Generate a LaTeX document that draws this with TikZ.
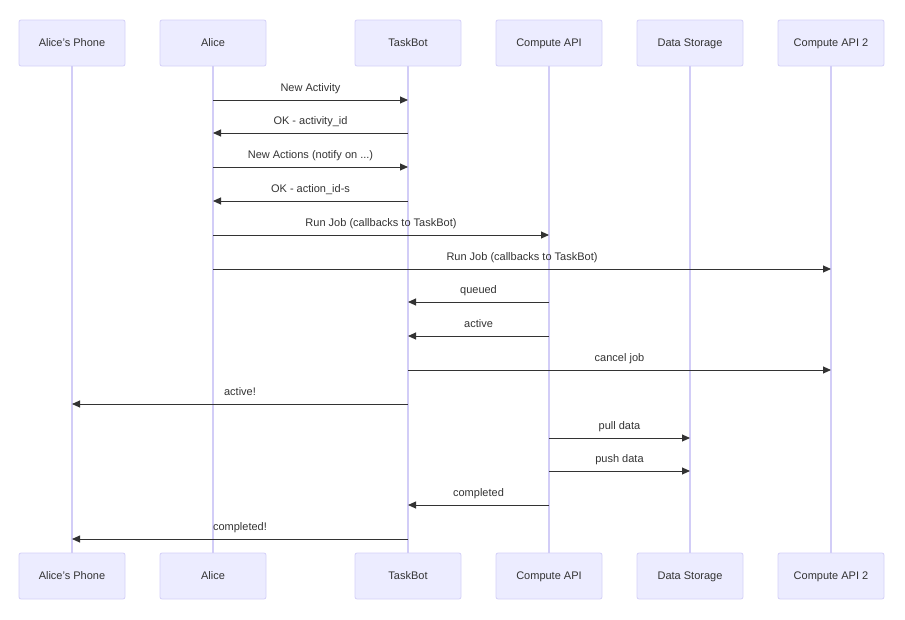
\documentclass[tikz,border=0pt]{standalone}
\usepackage{fontspec}
\setmainfont{Liberation Sans}
\usetikzlibrary{positioning,arrows.meta}
\definecolor{actorfill}{HTML}{ECECFF}
\definecolor{actorline}{HTML}{D4D0F8}
\definecolor{lifeline}{HTML}{D2CDF7}
\definecolor{msgline}{HTML}{333333}

\begin{document}
\begin{tikzpicture}[x=1pt, y=-1pt, node distance=487pt and 35pt,
    actor/.style={draw=actorline, fill=actorfill, rounded corners=2pt, line width=0.8pt, outer sep=0pt,
      minimum width=106pt, minimum height=46pt, text height=8pt, text depth=2pt,
      text=msgline, font=\fontsize{11}{13}\selectfont},
    life/.style={draw=lifeline, line width=1.3pt},
    msg/.style={draw=msgline, line width=0.9pt, -{Triangle[length=8pt,width=7pt]}},
    msglabel/.style={text=msgline, font=\fontsize{11}{13}\selectfont, inner sep=0pt,
      text height=8pt, text depth=2pt}]

    \useasboundingbox (0,0) rectangle (905,619);

    \node[actor] at (72,43)             (phone1)  {Alice's Phone};
    \node[actor, right=of phone1]       (alice1)  {Alice};
    \node[actor, right=of alice1, xshift=54pt] (bot1) {TaskBot};
    \node[actor, right=of bot1]         (api1)    {Compute API};
    \node[actor, right=of api1]         (store1)  {Data Storage};
    \node[actor, right=of store1]       (apitwo1) {Compute API 2};

    \node[actor, below=of phone1]       (phone2)  {Alice's Phone};
    \node[actor, below=of alice1]       (alice2)  {Alice};
    \node[actor, below=of bot1]         (bot2)    {TaskBot};
    \node[actor, below=of api1]         (api2)    {Compute API};
    \node[actor, below=of store1]       (store2)  {Data Storage};
    \node[actor, below=of apitwo1]      (apitwo2) {Compute API 2};

    % lifelines
    \foreach \who in {phone,alice,bot,api,store,apitwo}
        \draw[life] (\who1) -- (\who2);

    % messages
    \foreach \src/\dst/\y/\txt in {
        alice1/bot1/100/New Activity,
        bot1/alice1/133/OK - activity\_id,
        alice1/bot1/167/{New Actions (notify on .{}.{}.)},
        bot1/alice1/201/OK - action\_id-s,
        alice1/api1/235/Run Job (callbacks to TaskBot),
        alice1/apitwo1/269/Run Job (callbacks to TaskBot),
        api1/bot1/302/queued,
        api1/bot1/336/active,
        bot1/apitwo1/370/cancel job,
        bot1/phone1/404/active!,
        api1/store1/438/pull data,
        api1/store1/471/push data,
        api1/bot1/505/completed,
        bot1/phone1/539/completed!}
        \draw[msg] (\src |- 0,\y) -- node[msglabel, midway, yshift=12pt] {\txt} (\dst |- 0,\y);

\end{tikzpicture}
\end{document}
